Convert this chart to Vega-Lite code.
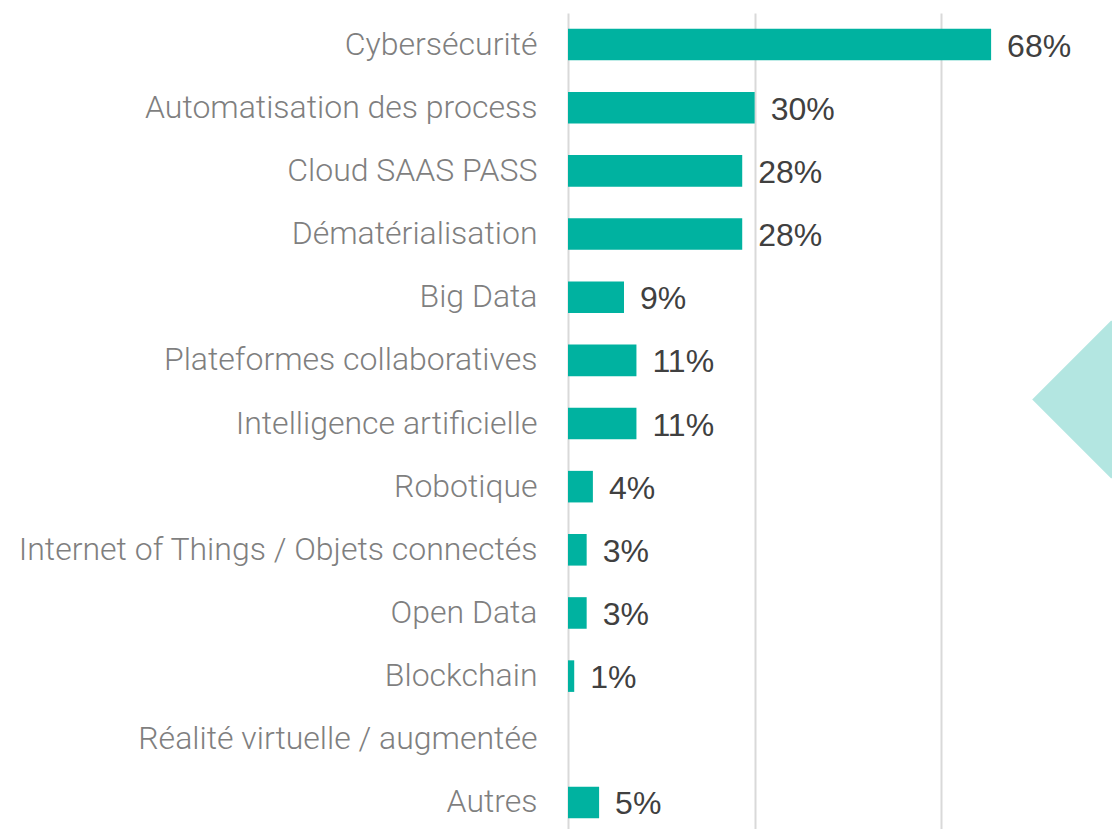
{
  "$schema": "https://vega.github.io/schema/vega-lite/v6.json",
  "width": 560,
  "height": 821,
  "autosize": "none",
  "padding": {"left": 568, "top": 13, "right": 0, "bottom": 0},
  "background": "white",
  "config": {"view": {"stroke": null}},
  "data": {
    "values": [
      {"category": "Cybersécurité", "value": 0.68},
      {"category": "Automatisation des process", "value": 0.30},
      {"category": "Cloud SAAS PASS", "value": 0.28},
      {"category": "Dématérialisation", "value": 0.28},
      {"category": "Big Data", "value": 0.09},
      {"category": "Plateformes collaboratives", "value": 0.11},
      {"category": "Intelligence artificielle", "value": 0.11},
      {"category": "Robotique", "value": 0.04},
      {"category": "Internet of Things / Objets connectés", "value": 0.03},
      {"category": "Open Data", "value": 0.03},
      {"category": "Blockchain", "value": 0.01},
      {"category": "Réalité virtuelle / augmentée", "value": 0},
      {"category": "Autres", "value": 0.05}
    ]
  },
  "resolve": {"scale": {"y": "independent"}},
  "layer": [
    {
      "layer": [
        {
          "mark": {"type": "bar", "color": "#00B2A0"},
          "encoding": {
            "y": {
              "field": "category", "type": "nominal", "sort": null,
              "scale": {"paddingInner": 0.5, "paddingOuter": 0.25},
              "axis": {
                "title": null, "ticks": false, "domain": false, "grid": false,
                "labelFont": "Roboto", "labelFontWeight": 300, "labelFontSize": 32,
                "labelColor": "#7f7f7f", "labelPadding": 31, "labelLimit": 0
              }
            },
            "x": {
              "field": "value", "type": "quantitative",
              "scale": {"domain": [0, 0.9], "nice": false},
              "axis": {
                "values": [0, 0.3, 0.6, 0.9], "grid": true, "gridColor": "#d9d9d9",
                "gridWidth": 2, "labels": false, "ticks": false, "domain": false, "title": null
              }
            }
          }
        },
        {
          "transform": [{"filter": "datum.value > 0"}],
          "mark": {"type": "text", "align": "left", "baseline": "middle", "dx": 16, "dy": 2,
                   "font": "Liberation Sans", "fontSize": 32, "color": "#404040"},
          "encoding": {
            "y": {"field": "category", "type": "nominal", "sort": null},
            "x": {"field": "value", "type": "quantitative"},
            "text": {"field": "value", "type": "quantitative", "format": ".0%"}
          }
        }
      ]
    },
    {
      "data": {"values": [{}]},
      "mark": {"type": "point", "shape": "diamond", "filled": true, "color": "#B3E6E1",
               "opacity": 1, "size": 24964},
      "encoding": {
        "x": {"datum": 0.873, "type": "quantitative"},
        "y": {"datum": 6.88, "type": "quantitative", "scale": {"domain": [0, 13], "nice": false, "zero": false}, "axis": null}
      }
    }
  ]
}
